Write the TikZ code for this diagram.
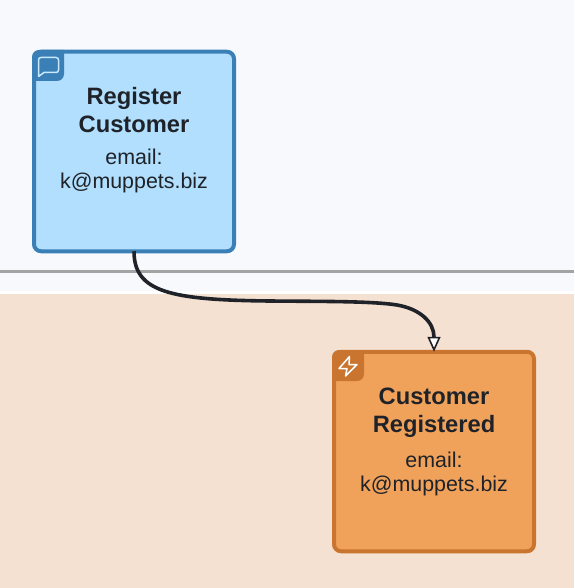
\documentclass[tikz,border=0pt]{standalone}
\usepackage{fontspec}
\setmainfont{Liberation Sans}
\usetikzlibrary{arrows.meta}
\definecolor{topbg}{HTML}{F8F9FC}
\definecolor{botbg}{HTML}{F5E1D1}
\definecolor{sepline}{HTML}{A3A3A3}
\definecolor{cmdfill}{HTML}{B1DFFD}
\definecolor{cmdline}{HTML}{3A80B7}
\definecolor{evtfill}{HTML}{F0A25B}
\definecolor{evtline}{HTML}{C9752F}
\definecolor{ink}{HTML}{1F2329}
\tikzset{
  x=1pt,y=-1pt,
  card/.style={rounded corners=7pt,line width=4pt,minimum width=200pt,minimum height=199.5pt,inner sep=0pt,outer sep=0pt},
  title/.style={font=\fontsize{23.7}{28}\selectfont\bfseries,text=ink,align=center},
  body/.style={font=\fontsize{21.4}{24}\selectfont,text=ink,align=center},
  iconline/.style={draw=#1,line width=1.5pt,line join=round,line cap=round},
  flow/.style={draw=ink,line width=3.6pt,-{Triangle[open,fill=white,length=15pt,width=13pt,line width=1.6pt]}},
}
\begin{document}
\begin{tikzpicture}
\useasboundingbox (0,0) rectangle (574,588);
% backgrounds
\fill[topbg] (0,0) rectangle (574,291);
\fill[white] (0,291) rectangle (574,293.5);
\fill[botbg] (0,293.5) rectangle (574,588);
\fill[sepline] (0,270) rectangle (574,273);
% cards
\node[card,draw=cmdline,fill=cmdfill] (cmd) at (134,151.5) {};
\node[card,draw=evtline,fill=evtfill] (evt) at (434,451.5) {};
% icon tabs
\fill[cmdline] (32,57) arc[start angle=180,end angle=270,radius=7] -- (64,50) -- (64,74)
  arc[start angle=0,end angle=90,radius=7] -- (32,81) -- cycle;
\fill[evtline] (332,357) arc[start angle=180,end angle=270,radius=7] -- (364,350) -- (364,374)
  arc[start angle=0,end angle=90,radius=7] -- (332,381) -- cycle;
% speech-bubble icon
\draw[iconline=cmdfill!70!white] (41,57.5) -- (56,57.5) .. controls (57.5,57.5) and (58.5,58.5) .. (58.5,60)
  -- (58.5,70) .. controls (58.5,71.5) and (57.5,72.5) .. (56,72.5) -- (44,72.5) -- (38.5,76.5) -- (38.5,60)
  .. controls (38.5,58.5) and (39.5,57.5) .. (41,57.5) -- cycle;
% bolt icon
\draw[iconline=white] (349.5,356.5) -- (339,368.5) -- (347,368.5) -- (345.5,376) -- (357,364.5) -- (349,364.5) -- cycle;
% texts
\node[title] (cmdtitle) at (134,110) {Register\\Customer};
\node[body] (cmdbody) at (134,170.5) {email:\\k@muppets.biz};
\node[title] (evttitle) at (434,412.5) {Customer\\Registered};
\node[body] (evtbody) at (434,474) {email:\\k@muppets.biz};
% connector
\draw[flow] (cmd.south) .. controls (134,292) and (170,300) .. (270,301)
  .. controls (320,301.5) and (372,301) .. (397,305)
  .. controls (420,309) and (434,322) .. (evt.north);
\end{tikzpicture}
\end{document}
